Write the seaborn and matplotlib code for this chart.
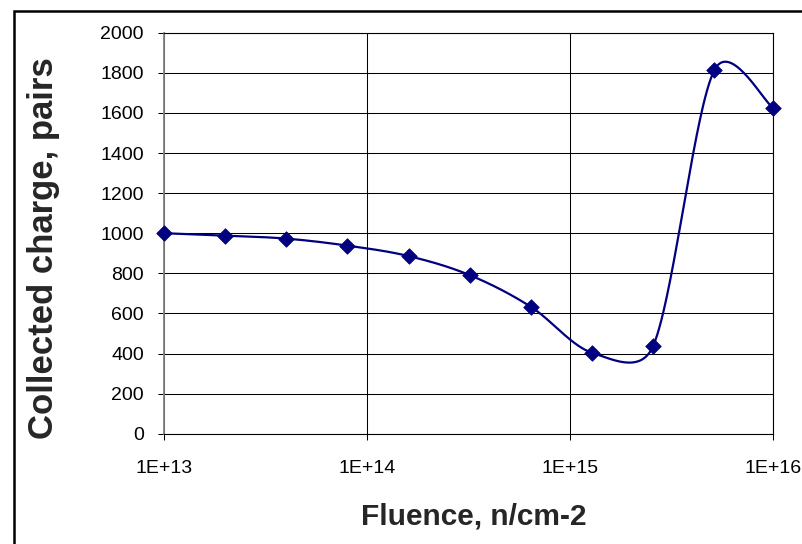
import numpy as np
import matplotlib
matplotlib.use("Agg")
import matplotlib.pyplot as plt
from matplotlib.lines import Line2D
from matplotlib.ticker import FixedLocator, FixedFormatter, NullLocator
import seaborn as sns

# Collected charge versus neutron fluence
fluence = [1e13, 2e13, 4e13, 8e13, 1.6e14, 3.2e14, 6.4e14, 1.28e15, 2.56e15, 5.12e15, 1e16]
charge = [1000, 988, 973, 938, 886, 791, 633, 404, 437, 1812, 1624]

x_ticks = [1e13, 1e14, 1e15, 1e16]
x_tick_labels = ["1E+13", "1E+14", "1E+15", "1E+16"]
y_ticks = list(range(0, 2001, 200))

LINE_COLOR = "#000080"

sns.set_style("white")
plt.rcParams["font.family"] = ["Liberation Sans", "DejaVu Sans"]

W, H = 802, 544
fig = plt.figure(figsize=(W / 100, H / 100), dpi=100)
fig.patch.set_facecolor("white")

# plot area in pixel units
left, top, right, bottom = 164, 32.7, 773.3, 433.7
ax = fig.add_axes([left / W, 1 - bottom / H, (right - left) / W, (bottom - top) / H])
ax.set_xscale("log")
ax.set_xlim(1e13, 1e16)
ax.set_ylim(0, 2000)


def smooth_path(px, py, n=60):
    """Bezier smoothing of a polyline in display space (spreadsheet style)."""
    pts = np.column_stack([px, py]).astype(float)
    N = len(pts)
    out = [pts[0]]
    t = np.linspace(0, 1, n)[1:, None]
    for i in range(N - 1):
        p0 = pts[i - 1] if i > 0 else pts[i]
        p1 = pts[i]
        p2 = pts[i + 1]
        p3 = pts[i + 2] if i + 2 < N else pts[i + 1]
        d02 = np.hypot(*(p2 - p0))
        d12 = np.hypot(*(p2 - p1))
        d13 = np.hypot(*(p3 - p1))
        f1 = 1 / 6 if d02 / 6 < d12 / 2 else d12 / d02 / 2
        f2 = 1 / 6 if d13 / 6 < d12 / 2 else d12 / d13 / 2
        b1 = p1 + (p2 - p0) * f1
        b2 = p2 - (p3 - p1) * f2
        seg = ((1 - t) ** 3) * p1 + 3 * ((1 - t) ** 2) * t * b1 \
            + 3 * (1 - t) * t ** 2 * b2 + t ** 3 * p2
        out.extend(seg)
    return np.array(out)


disp = ax.transData.transform(np.column_stack([fluence, charge]))
curve_disp = smooth_path(disp[:, 0], disp[:, 1])
curve = ax.transData.inverted().transform(curve_disp)

sns.lineplot(x=curve[:, 0], y=curve[:, 1], sort=False, estimator=None,
             color=LINE_COLOR, linewidth=1.6, ax=ax, zorder=3, clip_on=False)
sns.scatterplot(x=fluence, y=charge, marker="D", s=62, color=LINE_COLOR,
                edgecolor=LINE_COLOR, linewidth=0.6, ax=ax, zorder=4,
                clip_on=False)

ax.set_xlim(1e13, 1e16)
ax.set_ylim(0, 2000)

ax.xaxis.set_major_locator(FixedLocator(x_ticks))
ax.xaxis.set_major_formatter(FixedFormatter(x_tick_labels))
ax.xaxis.set_minor_locator(NullLocator())
ax.yaxis.set_major_locator(FixedLocator(y_ticks))
ax.yaxis.set_minor_locator(NullLocator())

ax.grid(True, which="major", color="black", linewidth=0.75)
ax.set_axisbelow(True)

for side in ["top", "right", "bottom"]:
    ax.spines[side].set_color("black")
    ax.spines[side].set_linewidth(0.8)
ax.spines["left"].set_color("#808080")
ax.spines["left"].set_linewidth(1.3)

ax.tick_params(axis="both", which="major", direction="out", length=4.5,
               width=0.75, color="black", labelsize=14, labelcolor="black",
               left=True, bottom=True, top=False, right=False)
ax.tick_params(axis="y", pad=10)
ax.tick_params(axis="x", pad=14.5)

ax.set_xlabel("")
ax.set_ylabel("")

fig.text(473.8 / W, 1 - 524.3 / H, "Fluence, n/cm-2", fontsize=21.5,
         fontweight="bold", ha="center", va="baseline")
fig.text(53 / W, 1 - 248.5 / H, "Collected charge, pairs", fontsize=25,
         fontweight="bold", ha="center", va="baseline", rotation=90,
         rotation_mode="anchor")

# outer chart frame
fig.add_artist(Line2D([14 / W, 14 / W, 1.02], [-0.02, 1 - 10.8 / H, 1 - 10.8 / H],
                      transform=fig.transFigure, color="black", linewidth=1.8,
                      solid_joinstyle="miter"))

fig.savefig("out.png", dpi=100, facecolor="white")
